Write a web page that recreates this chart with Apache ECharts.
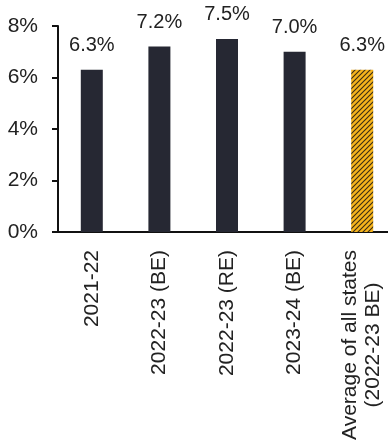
<!DOCTYPE html>
<html>
<head>
<meta charset="utf-8">
<script src="https://cdn.jsdelivr.net/npm/echarts@6/dist/echarts.min.js"></script>
<style>
  html, body { margin: 0; padding: 0; background: #fff; }
  #chart { width: 388px; height: 445px; }
</style>
</head>
<body>
<div id="chart"></div>
<script>
// Categories and values (percent)
const categories = ['2021-22', '2022-23 (BE)', '2022-23 (RE)', '2023-24 (BE)', 'Average of all states\n(2022-23 BE)'];
const values = [6.3, 7.2, 7.5, 7.0, 6.3];
const yTicks = [0, 2, 4, 6, 8];

const FONT = '"Liberation Sans", Arial, sans-serif';
const DARK = '#262833';
const ORANGE = '#F6B41C';

// diagonal hatch fill for the all-states average bar
function hatch() {
  const c = document.createElement('canvas');
  const s = 5;
  c.width = s; c.height = s;
  const g = c.getContext('2d');
  g.fillStyle = ORANGE;
  g.fillRect(0, 0, s, s);
  g.strokeStyle = '#3a2c14';
  g.lineWidth = 1.1;
  g.beginPath();
  g.moveTo(-1, s + 1); g.lineTo(s + 1, -1);
  g.moveTo(-1, 1); g.lineTo(1, -1);
  g.moveTo(s - 1, s + 1); g.lineTo(s + 1, s - 1);
  g.stroke();
  return c;
}

const barData = values.map((v, i) => ({
  value: v,
  itemStyle: i === values.length - 1
    ? { color: { image: hatch(), repeat: 'repeat' } }
    : { color: DARK }
}));

const chart = echarts.init(document.getElementById('chart'), null, { renderer: 'canvas' });
chart.setOption({
  animation: false,
  backgroundColor: '#fff',
  grid: { left: 58, right: -8, top: 26, bottom: 213, containLabel: false, outerBoundsMode: 'none' },
  xAxis: {
    type: 'category',
    data: categories,
    axisLine: { lineStyle: { color: '#111', width: 2 } },
    axisTick: { show: false },
    axisLabel: {
      rotate: 90,
      margin: 18,
      color: '#222',
      fontFamily: FONT,
      fontSize: 21,
      interval: 0,
      hideOverlap: false,
      formatter: function (v) {
        if (v.indexOf('\n') < 0) return v;
        return v.split('\n').map(l => '{c|' + l + '}').join('\n');
      },
      rich: {
        c: { width: 190, align: 'center', fontFamily: FONT, fontSize: 21, color: '#222', lineHeight: 23 }
      }
    }
  },
  yAxis: {
    type: 'value',
    min: yTicks[0],
    max: yTicks[yTicks.length - 1],
    interval: 2,
    splitLine: { show: false },
    axisLine: { show: true, lineStyle: { color: '#111', width: 2 } },
    axisTick: { show: true, length: 6, lineStyle: { color: '#111', width: 2 } },
    axisLabel: {
      formatter: '{value}%',
      margin: 20,
      color: '#222',
      fontFamily: FONT,
      fontSize: 21
    }
  },
  series: [{
    type: 'bar',
    data: barData,
    barWidth: 22,
    label: {
      show: true,
      position: 'top',
      distance: 14,
      color: '#222',
      fontFamily: FONT,
      fontSize: 20,
      formatter: p => p.value.toFixed(1) + '%'
    }
  }]
});
</script>
</body>
</html>
